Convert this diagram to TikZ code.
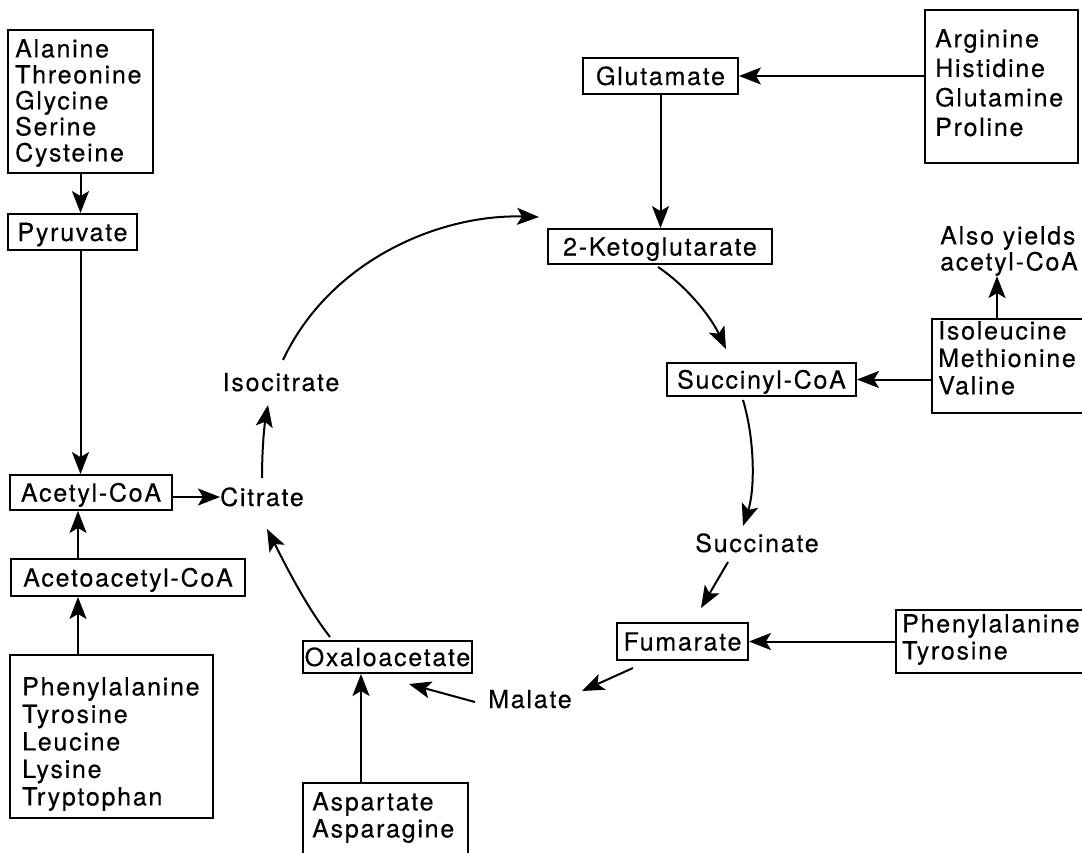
\documentclass[tikz,border=0pt]{standalone}
\usepackage{fontspec}
\setmainfont{TeX Gyre Heros}[LetterSpace=7,FakeBold=0.3]
\usetikzlibrary{arrows.meta}

\begin{document}
\begin{tikzpicture}[x=1pt,y=-1pt,
  font=\fontsize{25}{26}\selectfont,
  box/.style={draw, line width=1.9pt, inner sep=0pt, text height=18pt, text depth=0pt},
  lbl/.style={inner sep=1pt, text height=18pt, text depth=0pt},
  list/.style={inner sep=0pt, anchor=north west, align=left},
  arr/.style={line width=2pt, -{Stealth[length=22pt,width=17pt,inset=5pt]}}
]
\useasboundingbox (0,0) rectangle (1082,852);

% ---- boxes with a single name ----
\node[box, minimum width=129pt, minimum height=36pt] (pyr)    at (72.5,232)   {Pyruvate};
\node[box, minimum width=162pt, minimum height=35pt] (acetyl) at (91,492.5)   {Acetyl-CoA};
\node[box, minimum width=234pt, minimum height=37pt] (acac)   at (128,577.5)  {Acetoacetyl-CoA};
\node[box, minimum width=155pt, minimum height=36pt] (glu)    at (660.5,76)   {Glutamate};
\node[box, minimum width=224pt, minimum height=35pt] (kg)     at (660,246.5)  {2-Ketoglutarate};
\node[box, minimum width=189pt, minimum height=33pt] (suc)    at (761.5,379.5){Succinyl-CoA};
\node[box, minimum width=131pt, minimum height=37pt] (fum)    at (682.5,641.5){Fumarate};
\node[box, minimum width=169pt, minimum height=32pt] (oaa)    at (387.5,657)  {Oxaloacetate};

% ---- unboxed intermediates ----
\node[lbl, inner sep=0pt] (cit) at (262,497) {Citrate};
\node[lbl] (isocit) at (281,382) {Isocitrate};
\node[lbl] (succ)  at (757,543) {Succinate};
\node[lbl] (mal)   at (530,699) {Malate};

% ---- amino-acid source boxes ----
\node[box, minimum width=145pt, minimum height=143pt] (ala)  at (80.5,101.5) {};
\node[list, font=\fontsize{25}{26}\selectfont] (ala-t) at (15,39)
  {Alanine\\Threonine\\Glycine\\Serine\\Cysteine};

\node[box, minimum width=153pt, minimum height=153pt] (arg)  at (1001.5,86.5) {};
\node[list, font=\fontsize{25}{29.5}\selectfont] (arg-t) at (935,29)
  {Arginine\\Histidine\\Glutamine\\Proline};

\node[box, minimum width=152pt, minimum height=94pt] (ile)   at (1008,366) {};
\node[list, font=\fontsize{25}{27.5}\selectfont] (ile-t) at (938,321)
  {Isoleucine\\Methionine\\Valine};

\node[list, font=\fontsize{25}{26}\selectfont] (also) at (940,226)
  {Also yields\\acetyl-CoA};

\node[box, minimum width=188pt, minimum height=63pt] (phe2)  at (990,641.5) {};
\node[list, font=\fontsize{25}{27}\selectfont] (phe2-t) at (902,614)
  {Phenylalanine\\Tyrosine};

\node[box, minimum width=203pt, minimum height=163pt] (phe1) at (111.5,736.5) {};
\node[list, font=\fontsize{25}{27.5}\selectfont] (phe1-t) at (22,677)
  {Phenylalanine\\Tyrosine\\Leucine\\Lysine\\Tryptophan};

\node[box, minimum width=165pt, minimum height=87pt] (asp)   at (385.5,826.5) {};
\node[list, font=\fontsize{25}{27}\selectfont] (asp-t) at (312,792)
  {Aspartate\\Asparagine};

% ---- straight feeder arrows ----
\draw[arr] (ala.south) -- (ala.south |- pyr.north);
\draw[arr] (pyr.south -| ala.south) -- (ala.south |- acetyl.north);
\draw[arr] ([xshift=-50pt]acac.north) -- ([xshift=-50pt]acac.north |- acetyl.south);
\draw[arr] ([xshift=-50pt]acac.south |- phe1.north) -- ([xshift=-50pt]acac.south);
\draw[arr] (acetyl.east |- cit.west) -- (cit.west);
\draw[arr] (glu.south) -- (glu.south |- kg.north);
\draw[arr] (arg.west |- glu.east) -- (glu.east);
\draw[arr] (ile.west |- suc.east) -- (suc.east);
\draw[arr] ([xshift=-11pt]ile.north) -- ([xshift=-11pt]ile.north |- also.south);
\draw[arr] (phe2.west |- fum.east) -- (fum.east);
\draw[arr] ([xshift=-24.5pt]asp.north) -- ([xshift=-24.5pt]asp.north |- oaa.south);

% ---- cycle arrows ----
\coordinate (c1a) at (262,478);  \coordinate (c1b) at (268,405);
\coordinate (c2a) at (283,360);  \coordinate (c2b) at (539,217);
\coordinate (c3a) at (658,267);  \coordinate (c3b) at (726,349);
\coordinate (c4a) at (743,400);  \coordinate (c4b) at (743,526);
\coordinate (c5a) at (728,562);  \coordinate (c5b) at (701,608);
\coordinate (c6a) at (633,668);  \coordinate (c6b) at (582,691);
\coordinate (c7a) at (475,702);  \coordinate (c7b) at (409,684);
\coordinate (c8a) at (330,637);  \coordinate (c8b) at (267,529);

\draw[arr] (c1a) .. controls (262,452) and (264,428) .. (c1b);
\draw[arr] (c2a) .. controls (330,260) and (440,214) .. (c2b);
\draw[arr] (c3a) .. controls (685,285) and (710,315) .. (c3b);
\draw[arr] (c4a) .. controls (755,440) and (755,490) .. (c4b);
\draw[arr] (c5a) -- (c5b);
\draw[arr] (c6a) -- (c6b);
\draw[arr] (c7a) -- (c7b);
\draw[arr] (c8a) .. controls (305,605) and (283,560) .. (c8b);
\end{tikzpicture}
\end{document}
